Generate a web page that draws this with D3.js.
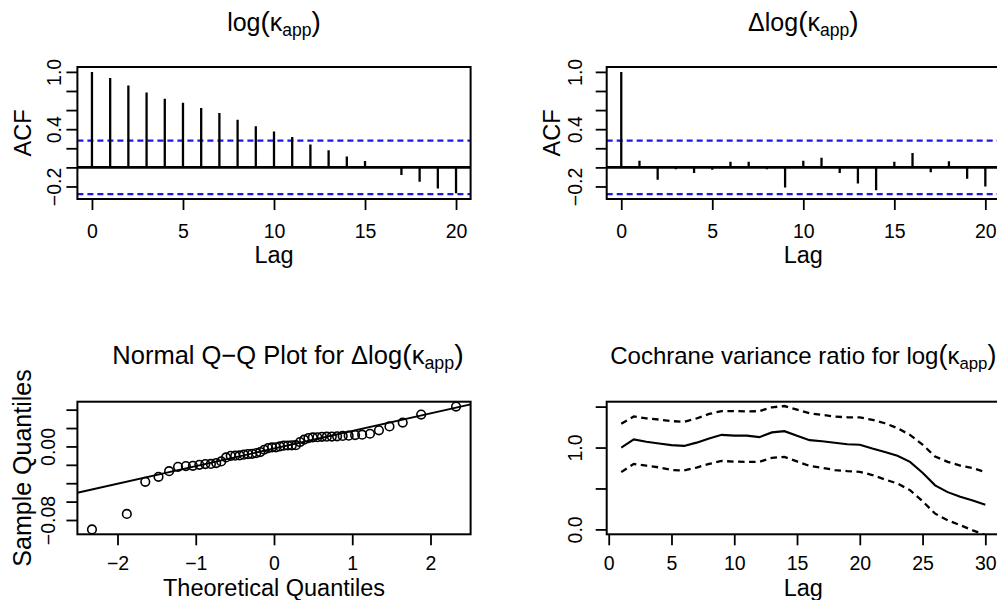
<!DOCTYPE html>
<html><head><meta charset="utf-8">
<script src="https://cdn.jsdelivr.net/npm/d3@7"></script>
<style>
body{margin:0;background:#fff;overflow:hidden}
text{font-family:"Liberation Sans",Arial,Helvetica,sans-serif;fill:#000}
</style>
</head><body>
<svg id="c" width="997" height="600"></svg>
<script>
// ---------------- DATA ----------------
const acfLags = [0,1,2,3,4,5,6,7,8,9,10,11,12,13,14,15,16,17,18,19,20];
const acfLogKappa = [1.0,0.937,0.857,0.784,0.718,0.677,0.621,0.569,0.50,0.43,0.375,0.319,0.24,0.18,0.115,0.066,-0.005,-0.08,-0.15,-0.22,-0.27];
const acfDiffLogKappa = [1.0,0.07,-0.13,-0.02,-0.06,-0.025,0.06,0.06,-0.02,-0.21,0.07,0.10,-0.06,-0.17,-0.24,0.06,0.15,-0.05,0.065,-0.12,-0.20];
const acfConfLimit = 0.28;
const acfXTicks = [0,5,10,15,20];
const acfYTicks = [-0.2,0.0,0.2,0.4,0.6,0.8,1.0];
const acfYTickLabels = {"-0.2":"\u22120.2","0.4":"0.4","1":"1.0"};

const qqTheoretical = [-2.3263,-1.8808,-1.6449,-1.4758,-1.3408,-1.2265,-1.1264,-1.0364,-0.9542,-0.8779,
  -0.8064,-0.7388,-0.6745,-0.6128,-0.5534,-0.4959,-0.4399,-0.3853,-0.3319,-0.2793,
  -0.2275,-0.1764,-0.1257,-0.0753,-0.0251,0.0251,0.0753,0.1257,0.1764,0.2275,
  0.2793,0.3319,0.3853,0.4399,0.4959,0.5534,0.6128,0.6745,0.7388,0.8064,
  0.8779,0.9542,1.0364,1.1264,1.2265,1.3408,1.4758,1.6449,1.8808,2.3263];
const qqSample = [-0.0902,-0.0734,-0.0385,-0.0331,-0.0269,-0.0222,-0.0214,-0.0211,-0.0200,-0.0192,
  -0.0190,-0.0181,-0.0163,-0.0120,-0.0102,-0.0100,-0.0098,-0.0090,-0.0083,-0.0080,
  -0.0072,-0.0061,-0.0036,-0.0018,-0.0011,-0.0010,0.0000,0.0008,0.0010,0.0012,
  0.0014,0.0048,0.0073,0.0091,0.0098,0.0100,0.0104,0.0106,0.0107,0.0110,
  0.0114,0.0117,0.0124,0.0128,0.0138,0.0175,0.0218,0.0259,0.0346,0.0433];
const qqQuartileZ = 0.6745;
const qqXTicks = [-2,-1,0,1,2];
const qqXTickLabels = {"-2":"\u22122","-1":"\u22121","0":"0","1":"1","2":"2"};
const qqYTicks = [-0.08,-0.06,-0.04,-0.02,0.0,0.02,0.04];
const qqYTickLabels = {"-0.08":"\u22120.08","0":"0.00"};

const vrLags = [1,2,3,4,5,6,7,8,9,10,11,12,13,14,15,16,17,18,19,20,21,22,23,24,25,26,27,28,29,30];
const vrRatio = [1.00,1.10,1.07,1.05,1.03,1.02,1.06,1.11,1.155,1.145,1.145,1.127,1.185,1.20,1.143,1.09,1.077,1.058,1.04,1.035,0.988,0.946,0.90,0.825,0.693,0.538,0.455,0.40,0.352,0.30];
const vrUpper = [1.29,1.38,1.356,1.342,1.323,1.315,1.355,1.41,1.446,1.446,1.44,1.445,1.492,1.507,1.462,1.418,1.40,1.378,1.37,1.369,1.338,1.297,1.236,1.155,1.035,0.89,0.825,0.78,0.75,0.70];
const vrLower = [0.70,0.80,0.778,0.758,0.725,0.72,0.755,0.80,0.836,0.828,0.824,0.826,0.874,0.886,0.83,0.775,0.752,0.725,0.712,0.703,0.664,0.61,0.56,0.48,0.345,0.192,0.112,0.052,-0.012,-0.07];
const vrYLim = [0, 1.5];
const vrXTicks = [0,5,10,15,20,25,30];
const vrYTicks = [0,0.5,1.0,1.5];
const vrYTickLabels = {"0":"0.0","1":"1.0"};

// ---------------- LAYOUT ----------------
const svg = d3.select("#c");
svg.append("rect").attr("width",997).attr("height",600).attr("fill","#fff");
const colX = [[77.4,470.6],[606.7,999.9]];
const rowY = [[67,199],[401.7,534.3]];
const TICK = 11, FS_TICK = 19.5, FS_LAB = 23.5, FS_TITLE = 25;

function ext(lo, hi){ const r = hi - lo; return [lo - 0.04*r, hi + 0.04*r]; }

let clipN = 0;
function makePanel(c, r, xDom, yDom){
  const [x0,x1] = colX[c], [y0,y1] = rowY[r];
  const x = d3.scaleLinear().domain(xDom).range([x0,x1]);
  const y = d3.scaleLinear().domain(yDom).range([y1,y0]);
  const id = "clip"+(clipN++);
  svg.append("clipPath").attr("id",id).append("rect")
    .attr("x",x0).attr("y",y0).attr("width",x1-x0).attr("height",y1-y0);
  const plot = svg.append("g").attr("clip-path",`url(#${id})`);
  return {x,y,x0,x1,y0,y1,plot};
}

function box(p){
  svg.append("rect").attr("x",p.x0).attr("y",p.y0).attr("width",p.x1-p.x0).attr("height",p.y1-p.y0)
    .attr("fill","none").attr("stroke","#000").attr("stroke-width",2);
}

function xAxis(p, ticks, labels, labelBase){
  const ax = d3.axisBottom(p.x).tickValues(ticks).tickSize(TICK)
    .tickFormat(d => labels ? (labels[String(d)] ?? "") : String(d));
  const g = svg.append("g").attr("transform",`translate(0,${p.y1})`).call(ax);
  g.select(".domain").remove();
  g.selectAll(".tick line").attr("stroke","#000").attr("stroke-width",1.8);
  g.selectAll(".tick text").attr("y",labelBase).attr("dy",0)
    .attr("font-size",FS_TICK).attr("font-family","Liberation Sans, Arial, sans-serif").attr("fill","#000");
}

function yAxis(p, ticks, labels, labelOff){
  const ax = d3.axisLeft(p.y).tickValues(ticks).tickSize(TICK)
    .tickFormat(d => labels[String(+d.toFixed(6))] ?? "");
  const g = svg.append("g").attr("transform",`translate(${p.x0},0)`).call(ax);
  g.select(".domain").remove();
  g.selectAll(".tick line").attr("stroke","#000").attr("stroke-width",1.8);
  g.selectAll(".tick text").attr("transform","rotate(-90)").attr("x",0).attr("y",-labelOff).attr("dy",0)
    .attr("text-anchor","middle").attr("font-size",FS_TICK)
    .attr("font-family","Liberation Sans, Arial, sans-serif").attr("fill","#000");
}

function xLabel(p, txt, base){
  svg.append("text").attr("x",(p.x0+p.x1)/2).attr("y",base).attr("text-anchor","middle")
    .attr("font-size",FS_LAB).text(txt);
}
function yLabel(p, txt, bx, fs){
  const cy = (p.y0+p.y1)/2;
  svg.append("text").attr("transform",`translate(${bx},${cy}) rotate(-90)`).attr("text-anchor","middle")
    .attr("font-size",fs || FS_LAB).text(txt);
}
function mathTitle(cx, base, prefix, fs){
  fs = fs || FS_TITLE;
  const t = svg.append("text").attr("x",cx).attr("y",base).attr("text-anchor","middle").attr("font-size",fs);
  t.append("tspan").text(prefix + "log");
  t.append("tspan").attr("font-size",fs*1.12).text("(");
  t.append("tspan").text("\u03BA");
  t.append("tspan").attr("font-size",fs*0.7).attr("dy",5).text("app");
  t.append("tspan").attr("font-size",fs*1.12).attr("dy",-5).text(")");
}

// ---------------- ACF PANELS ----------------
function acfPanel(c, values, prefix){
  const yDom = ext(Math.min(d3.min(values), -acfConfLimit), Math.max(d3.max(values), acfConfLimit));
  const p = makePanel(c, 0, ext(d3.min(acfLags), d3.max(acfLags)), yDom);
  [acfConfLimit, -acfConfLimit].forEach(v => {
    p.plot.append("line").attr("x1",p.x0).attr("x2",p.x1).attr("y1",p.y(v)).attr("y2",p.y(v))
      .attr("stroke","#1a1aee").attr("stroke-width",2.1).attr("stroke-dasharray","6,4");
  });
  p.plot.append("line").attr("x1",p.x0).attr("x2",p.x1).attr("y1",p.y(0)).attr("y2",p.y(0))
    .attr("stroke","#000").attr("stroke-width",2.6);
  p.plot.selectAll("line.spike").data(acfLags).join("line").attr("class","spike")
    .attr("x1",d=>p.x(d)).attr("x2",d=>p.x(d)).attr("y1",p.y(0)).attr("y2",(d,i)=>p.y(values[i]))
    .attr("stroke","#000").attr("stroke-width",2.3);
  box(p);
  xAxis(p, acfXTicks, null, 39);
  yAxis(p, acfYTicks, acfYTickLabels, c===0 ? 16 : 25);
  xLabel(p, "Lag", 263);
  yLabel(p, "ACF", c===0 ? 31 : 560);
  mathTitle((p.x0+p.x1)/2, 31, prefix);
}
acfPanel(0, acfLogKappa, "");
acfPanel(1, acfDiffLogKappa, "\u0394");

// ---------------- QQ PANEL ----------------
(function(){
  const p = makePanel(0, 1, ext(d3.min(qqTheoretical), d3.max(qqTheoretical)), ext(d3.min(qqSample), d3.max(qqSample)));
  const sorted = qqSample.slice().sort(d3.ascending);
  const q1 = d3.quantile(sorted, 0.25), q3 = d3.quantile(sorted, 0.75);
  const slope = (q3 - q1) / (2*qqQuartileZ);
  const icpt = q1 + slope*qqQuartileZ;
  const [xa, xb] = p.x.domain();
  p.plot.append("line").attr("x1",p.x(xa)).attr("x2",p.x(xb))
    .attr("y1",p.y(icpt+slope*xa)).attr("y2",p.y(icpt+slope*xb))
    .attr("stroke","#000").attr("stroke-width",1.9);
  p.plot.selectAll("circle").data(qqTheoretical).join("circle")
    .attr("cx",d=>p.x(d)).attr("cy",(d,i)=>p.y(qqSample[i])).attr("r",4.3)
    .attr("fill","none").attr("stroke","#000").attr("stroke-width",1.6);
  box(p);
  xAxis(p, qqXTicks, qqXTickLabels, 35.5);
  yAxis(p, qqYTicks, qqYTickLabels, 22);
  xLabel(p, "Theoretical Quantiles", 596);
  yLabel(p, "Sample Quantiles", 31, 25);
  mathTitle(288, 364, "Normal Q\u2212Q Plot for \u0394", 25.5);
})();

// ---------------- VARIANCE RATIO PANEL ----------------
(function(){
  const p = makePanel(1, 1, ext(d3.min(vrLags), d3.max(vrLags)), ext(vrYLim[0], vrYLim[1]));
  const line = arr => d3.line().x((d,i)=>p.x(vrLags[i])).y(d=>p.y(d))(arr);
  p.plot.append("path").attr("d",line(vrUpper)).attr("fill","none").attr("stroke","#000")
    .attr("stroke-width",2.3).attr("stroke-dasharray","6.5,4.5");
  p.plot.append("path").attr("d",line(vrLower)).attr("fill","none").attr("stroke","#000")
    .attr("stroke-width",2.3).attr("stroke-dasharray","6.5,4.5");
  p.plot.append("path").attr("d",line(vrRatio)).attr("fill","none").attr("stroke","#000")
    .attr("stroke-width",2.1);
  box(p);
  xAxis(p, vrXTicks, null, 35.5);
  yAxis(p, vrYTicks, vrYTickLabels, 25);
  xLabel(p, "Lag", 596);
  mathTitle((p.x0+p.x1)/2, 364, "Cochrane variance ratio for ", 24);
})();
</script>
</body></html>
